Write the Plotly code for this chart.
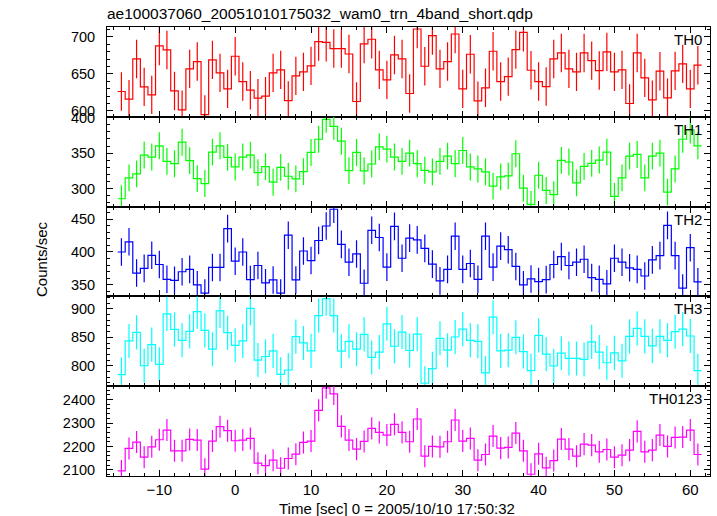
import plotly.graph_objects as go
from plotly.subplots import make_subplots

# Bin centres (seconds from 2005/10/10 17:50:32)
time_sec = list(range(-15, 62))

th0 = [626.2, 615.9, 670.3, 632.5, 621.7, 687.9, 682.5, 627.0, 601.5, 656.8,
       666.7, 595.0, 669.0, 651.4, 629.8, 673.9, 639.7, 628.0, 617.2, 620.0,
       651.4, 655.5, 614.0, 647.4, 652.8, 660.9, 693.7, 692.8, 684.3, 684.3,
       677.0, 612.7, 690.6, 696.9, 655.5, 642.0, 675.7, 670.3, 623.5, 710.8,
       660.4, 701.8, 656.8, 666.7, 704.0, 629.8, 676.6, 613.6, 631.2, 680.7,
       639.7, 646.4, 682.9, 706.3, 655.0, 639.7, 632.9, 670.3, 678.4, 656.8,
       652.8, 678.4, 668.0, 654.6, 679.8, 652.8, 655.5, 610.0, 678.4, 644.7,
       615.0, 653.7, 617.7, 654.1, 663.6, 629.8, 661.8]

th1 = [285.5, 315.0, 320.6, 347.2, 344.4, 360.3, 338.3, 335.0, 365.4, 339.3,
       314.0, 307.0, 351.4, 360.3, 343.9, 330.4, 344.4, 347.2, 322.4, 330.9,
       308.9, 329.9, 317.3, 313.6, 323.8, 350.9, 369.6, 397.6, 387.8, 366.8,
       325.2, 350.9, 324.8, 334.6, 358.9, 355.6, 344.4, 338.3, 350.0, 335.0,
       325.7, 323.4, 338.3, 345.8, 335.0, 353.7, 330.4, 327.6, 323.4, 303.3,
       316.4, 317.8, 349.1, 300.5, 277.6, 318.7, 297.2, 291.2, 339.7, 337.4,
       308.0, 331.3, 335.5, 340.2, 351.4, 288.8, 315.0, 345.8, 348.1, 315.0,
       345.8, 350.0, 294.9, 327.6, 369.6, 382.7, 360.3]

th2 = [400.0, 415.5, 368.0, 375.0, 395.0, 381.0, 358.5, 357.0, 370.0, 373.5,
       350.0, 337.5, 376.5, 376.5, 435.5, 386.0, 400.0, 358.0, 379.5, 353.0,
       357.5, 337.5, 425.5, 357.5, 401.5, 387.0, 417.5, 439.5, 465.0, 411.5,
       384.5, 397.0, 352.5, 433.0, 422.0, 377.0, 439.0, 390.5, 421.0, 418.5,
       405.5, 381.5, 356.0, 373.5, 424.0, 373.5, 382.5, 358.5, 424.0, 377.0,
       409.0, 403.5, 378.0, 350.0, 359.0, 355.0, 358.0, 381.0, 393.0, 379.5,
       384.5, 389.0, 361.0, 358.5, 351.5, 390.5, 384.5, 376.0, 373.5, 363.5,
       388.0, 394.5, 440.5, 394.5, 345.0, 406.5, 354.5]

th3 = [784.3, 843.6, 858.7, 800.0, 837.2, 802.4, 891.3, 863.9, 844.8, 860.5,
       895.3, 862.2, 829.1, 896.5, 858.1, 836.0, 843.6, 901.1, 809.9, 816.3,
       826.2, 784.9, 792.5, 851.2, 840.1, 826.2, 888.3, 918.0, 888.3, 825.6,
       843.0, 829.1, 855.2, 814.6, 823.9, 873.8, 834.3, 859.3, 826.8, 855.8,
       769.2, 794.8, 848.3, 827.3, 850.6, 864.5, 844.8, 843.0, 787.3, 885.4,
       826.2, 827.3, 850.0, 825.0, 791.3, 853.5, 820.4, 799.5, 822.1, 812.8,
       812.8, 811.1, 841.9, 823.9, 805.3, 822.7, 808.7, 851.7, 865.7, 851.7,
       834.9, 851.7, 844.8, 859.9, 864.5, 852.3, 791.3]

th0123 = [2095.7, 2191.4, 2218.6, 2154.3, 2198.6, 2228.6, 2270.0, 2181.4, 2181.4, 2230.0,
          2227.1, 2102.9, 2222.9, 2284.3, 2267.1, 2224.3, 2227.1, 2234.3, 2128.6, 2118.6,
          2141.4, 2107.1, 2148.6, 2167.1, 2217.1, 2222.9, 2354.3, 2450.0, 2424.3, 2285.7,
          2227.1, 2188.6, 2221.4, 2277.1, 2260.0, 2248.6, 2294.3, 2260.0, 2220.0, 2317.1,
          2158.6, 2200.0, 2198.6, 2220.0, 2312.9, 2222.9, 2234.3, 2141.4, 2165.7, 2244.3,
          2192.9, 2195.7, 2257.1, 2181.4, 2081.4, 2168.6, 2108.6, 2140.0, 2231.4, 2188.6,
          2158.6, 2210.0, 2205.7, 2177.1, 2187.1, 2154.3, 2162.9, 2184.3, 2264.3, 2177.1,
          2184.3, 2248.6, 2200.0, 2238.6, 2240.0, 2270.0, 2165.7]

# Typical 1-sigma error per band
err_th0 = 26
err_th1 = 19
err_th2 = 21
err_th3 = 30
err_th0123 = 47

band_names = ["TH0", "TH1", "TH2", "TH3", "TH0123"]
band_values = [th0, th1, th2, th3, th0123]
band_errors = [err_th0, err_th1, err_th2, err_th3, err_th0123]
band_colors = ["#ff0000", "#00ff00", "#0000ff", "#00ffff", "#ff00ff"]
y_ranges = [[592, 713.5], [274.4, 401.3], [332.5, 469], [764, 922], [2074, 2457]]
y_dtick = [50, 50, 50, 50, 100]
y_minor = [10, 10, 10, 10, 20]

BIN = 1.0
FONT = "Liberation Sans, Arial, Helvetica, sans-serif"

fig = make_subplots(rows=5, cols=1, shared_xaxes=True, vertical_spacing=0)

for i, (name, vals, err, col) in enumerate(zip(band_names, band_values, band_errors, band_colors)):
    r = i + 1
    # step histogram: bin left edges + final right edge
    edges = [t - BIN / 2 for t in time_sec] + [time_sec[-1] + BIN / 2]
    step_y = list(vals) + [vals[-1]]
    fig.add_trace(go.Scatter(x=edges, y=step_y, mode="lines", line_shape="hv",
                             line=dict(color=col, width=1.2), hoverinfo="skip",
                             showlegend=False), row=r, col=1)
    fig.add_trace(go.Scatter(x=time_sec, y=vals, mode="markers",
                             marker=dict(size=0.1, color=col, opacity=0),
                             error_y=dict(type="data", array=[err] * len(vals),
                                          color=col, thickness=1.2, width=0, visible=True),
                             showlegend=False, name=name), row=r, col=1)
    fig.update_yaxes(range=y_ranges[i], dtick=y_dtick[i], row=r, col=1,
                     minor=dict(dtick=y_minor[i], ticks="inside", ticklen=3, tickcolor="black"))
    yref = "y domain" if r == 1 else f"y{r} domain"
    xref = "x domain" if r == 1 else f"x{r} domain"
    fig.add_annotation(text=name, xref=xref, yref=yref, x=1, y=1,
                       xanchor="right", yanchor="top", xshift=-6, yshift=-2,
                       showarrow=False, font=dict(family=FONT, size=15, color="black"))

fig.update_xaxes(range=[-16.9, 62.6], dtick=10, ticks="inside", ticklen=6,
                 tickcolor="black", mirror="allticks", showline=True, linecolor="black",
                 linewidth=1, showgrid=False, zeroline=False,
                 minor=dict(dtick=2, ticks="inside", ticklen=3, tickcolor="black"),
                 tickfont=dict(family=FONT, size=15, color="black"))
fig.update_yaxes(ticks="inside", ticklen=6, tickcolor="black", mirror="allticks",
                 showline=True, linecolor="black", linewidth=1, showgrid=False,
                 zeroline=False, ticklabelstandoff=8,
                 tickfont=dict(family=FONT, size=14.5, color="black"))

fig.add_annotation(text="Counts/sec", xref="paper", yref="paper",
                   x=(41 - 107) / 603, y=(476 - 259) / 449, textangle=-90,
                   xanchor="center", yanchor="middle", showarrow=False,
                   font=dict(family=FONT, size=15, color="black"))
fig.add_annotation(text="Time [sec] 0 = 2005/10/10 17:50:32", xref="paper", yref="paper",
                   x=(397 - 107) / 603, y=-(508 - 476) / 449,
                   xanchor="center", yanchor="middle", showarrow=False,
                   font=dict(family=FONT, size=15, color="black"))

fig.update_layout(
    width=717, height=516,
    margin=dict(l=107, r=7, t=27, b=40),
    paper_bgcolor="white", plot_bgcolor="white",
    title=dict(text="ae100037060_20051010175032_wam0_trn_4band_short.qdp",
               x=107 / 717, xanchor="left", xref="container",
               y=1 - 14 / 516, yanchor="middle", yref="container",
               font=dict(family=FONT, size=15.5, color="black")),
    showlegend=False,
)

fig.write_html("out.html", config={"displayModeBar": False})

# remove the default page margin so the figure sits at the window's corner
with open("out.html", "r", encoding="utf-8") as fh:
    page = fh.read()
page = page.replace("<head>", "<head><style>html,body{margin:0;padding:0;overflow:hidden;}</style>", 1)
with open("out.html", "w", encoding="utf-8") as fh:
    fh.write(page)
